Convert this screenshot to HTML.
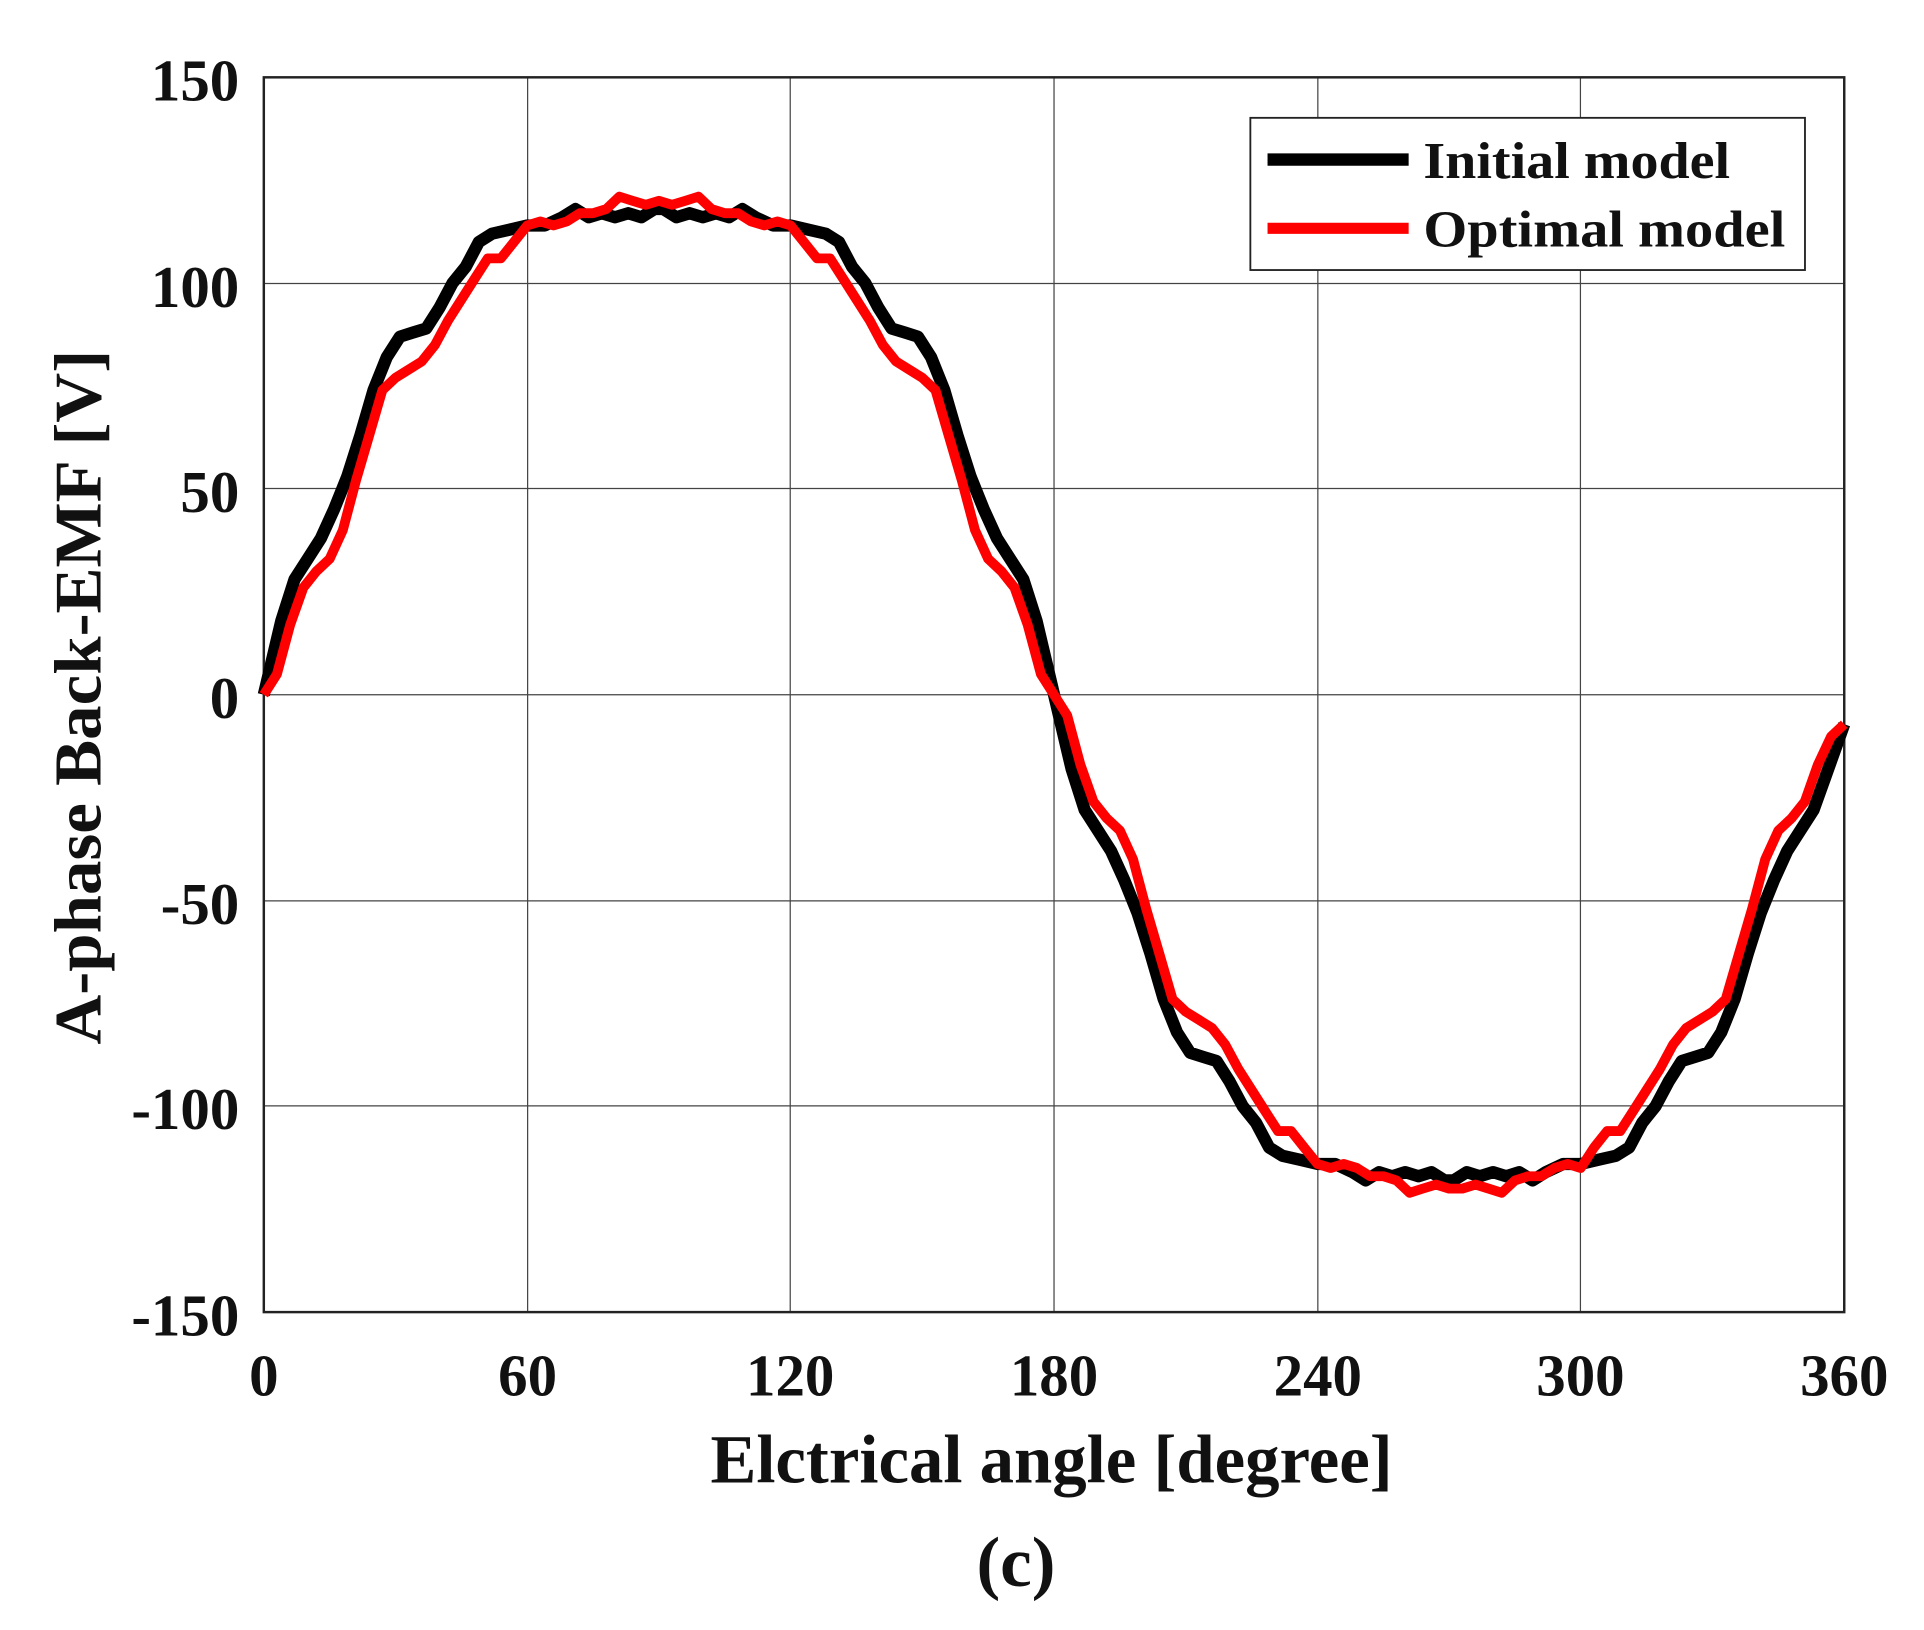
<!DOCTYPE html>
<html><head><meta charset="utf-8"><style>
html,body{margin:0;padding:0;background:#fff;}
svg{display:block;}
text{font-family:"Liberation Serif",serif;font-weight:bold;fill:#111;}
</style></head><body>
<svg width="1924" height="1630" viewBox="0 0 1568 1328" preserveAspectRatio="none" xmlns="http://www.w3.org/2000/svg">
<g stroke="#444" stroke-width="1">
<line x1="430" y1="63" x2="430" y2="1069"/><line x1="644" y1="63" x2="644" y2="1069"/>
<line x1="859" y1="63" x2="859" y2="1069"/><line x1="1074" y1="63" x2="1074" y2="1069"/>
<line x1="1288" y1="63" x2="1288" y2="1069"/>
<line x1="215" y1="231" x2="1503" y2="231"/><line x1="215" y1="398" x2="1503" y2="398"/>
<line x1="215" y1="566" x2="1503" y2="566"/><line x1="215" y1="734" x2="1503" y2="734"/>
<line x1="215" y1="901" x2="1503" y2="901"/>
</g>
<rect x="215" y="63" width="1288" height="1006" fill="none" stroke="#222" stroke-width="2"/>
<polyline fill="none" stroke="#000" stroke-width="10" stroke-linejoin="round" points="215,566 229.3,505.6 240,472.1 250.8,455.3 261.5,438.6 272.2,415.1 283,388.3 293.7,354.7 304.4,317.9 315.2,291 325.9,274.3 336.6,270.9 347.4,267.6 358.1,250.8 368.8,230.7 379.6,217.3 390.3,197.1 401,190.4 415.4,187.1 429.7,183.7 444,183.7 458.3,177 469,170.3 479.8,177 490.5,173.7 501.2,177 512,173.7 522.7,177 533.4,170.3 537,170.3 540.6,170.3 551.3,177 562,173.7 572.8,177 583.5,173.7 594.2,177 605,170.3 615.7,177 630,183.7 644.3,183.7 658.6,187.1 673,190.4 683.7,197.1 694.4,217.3 705.2,230.7 715.9,250.8 726.6,267.6 737.4,270.9 748.1,274.3 758.8,291 769.6,317.9 780.3,354.7 791,388.3 801.8,415.1 812.5,438.6 823.2,455.3 834,472.1 844.7,505.6 859,566 873.3,626.4 884,659.9 894.8,676.7 905.5,693.4 916.2,716.9 927,743.7 937.7,777.3 948.4,814.1 959.2,841 969.9,857.7 980.6,861.1 991.4,864.4 1002.1,881.2 1012.8,901.3 1023.6,914.7 1034.3,934.9 1045,941.6 1059.4,944.9 1073.7,948.3 1088,948.3 1102.3,955 1113,961.7 1123.8,955 1134.5,958.3 1145.2,955 1156,958.3 1166.7,955 1177.4,961.7 1181,961.7 1184.6,961.7 1195.3,955 1206,958.3 1216.8,955 1227.5,958.3 1238.2,955 1249,961.7 1259.7,955 1274,948.3 1288.3,948.3 1302.6,944.9 1317,941.6 1327.7,934.9 1338.4,914.7 1349.2,901.3 1359.9,881.2 1370.6,864.4 1381.4,861.1 1392.1,857.7 1402.8,841 1413.6,814.1 1424.3,777.3 1435,743.7 1445.8,716.9 1456.5,693.4 1467.2,676.7 1478,659.9 1488.7,630 1503,590"/>
<polyline fill="none" stroke="#f00" stroke-width="8" stroke-linejoin="round" points="215,566 225.7,549.2 236.5,509 247.2,478.8 257.9,465.4 268.7,455.3 279.4,431.9 290.1,391.6 300.9,354.7 311.6,317.9 322.3,307.8 333.1,301.1 343.8,294.4 354.5,281 365.3,260.9 376,244.1 386.7,227.3 397.5,210.5 408.2,210.5 418.9,197.1 429.7,183.7 440.4,180.4 451.1,183.7 461.9,180.4 472.6,173.7 483.3,173.7 494.1,170.3 504.8,160.2 515.5,163.6 526.3,166.9 537,163.6 547.7,166.9 558.5,163.6 569.2,160.2 579.9,170.3 590.7,173.7 601.4,173.7 612.1,180.4 622.9,183.7 633.6,180.4 644.3,183.7 655.1,197.1 665.8,210.5 676.5,210.5 687.3,227.3 698,244.1 708.7,260.9 719.5,281 730.2,294.4 740.9,301.1 751.7,307.8 762.4,317.9 773.1,354.7 783.9,391.6 794.6,431.9 805.3,455.3 816.1,465.4 826.8,478.8 837.5,509 848.3,549.2 859,566 869.7,582.8 880.5,623 891.2,653.2 901.9,666.6 912.7,676.7 923.4,700.1 934.1,740.4 944.9,777.3 955.6,814.1 966.3,824.2 977.1,830.9 987.8,837.6 998.5,851 1009.3,871.1 1020,887.9 1030.7,904.7 1041.5,921.5 1052.2,921.5 1062.9,934.9 1073.7,948.3 1084.4,951.6 1095.1,948.3 1105.9,951.6 1116.6,958.3 1127.3,958.3 1138.1,961.7 1148.8,971.8 1159.5,968.4 1170.3,965.1 1181,968.4 1191.7,968.4 1202.5,965.1 1213.2,968.4 1223.9,971.8 1234.7,961.7 1245.4,958.3 1256.1,958.3 1266.9,951.6 1277.6,948.3 1288.3,951.6 1299.1,934.9 1309.8,921.5 1320.5,921.5 1331.3,904.7 1342,887.9 1352.7,871.1 1363.5,851 1374.2,837.6 1384.9,830.9 1395.7,824.2 1406.4,814.1 1417.1,777.3 1427.9,740.4 1438.6,700.1 1449.3,676.7 1460.1,666.6 1470.8,653.2 1481.5,623 1492.3,600 1503,590"/>
<rect x="1019" y="96" width="452" height="124" fill="#fff" stroke="#222" stroke-width="1.5"/>
<line x1="1033" y1="130" x2="1148" y2="130" stroke="#000" stroke-width="10"/>
<line x1="1033" y1="186" x2="1148" y2="186" stroke="#f00" stroke-width="9"/>
<g font-size="42">
<text x="1160" y="145" textLength="250" lengthAdjust="spacingAndGlyphs">Initial model</text>
<text x="1160" y="201" textLength="295" lengthAdjust="spacingAndGlyphs">Optimal model</text>
</g>
<g font-size="48" text-anchor="end">
<text x="195" y="82">150</text><text x="195" y="250">100</text><text x="195" y="417">50</text>
<text x="195" y="585">0</text><text x="195" y="753">-50</text><text x="195" y="920">-100</text>
<text x="195" y="1088">-150</text>
</g>
<g font-size="48" text-anchor="middle">
<text x="215" y="1137">0</text><text x="430" y="1137">60</text><text x="644" y="1137">120</text>
<text x="859" y="1137">180</text><text x="1074" y="1137">240</text><text x="1288" y="1137">300</text>
<text x="1503" y="1137">360</text>
</g>
<text x="857" y="1208" font-size="56" text-anchor="middle" textLength="556" lengthAdjust="spacingAndGlyphs">Elctrical angle [degree]</text>
<text x="828" y="1292" font-size="58" text-anchor="middle">(c)</text>
<text transform="translate(82,568) rotate(-90)" font-size="54" text-anchor="middle" textLength="566" lengthAdjust="spacingAndGlyphs">A-phase Back-EMF [V]</text>
</svg>
</body></html>
